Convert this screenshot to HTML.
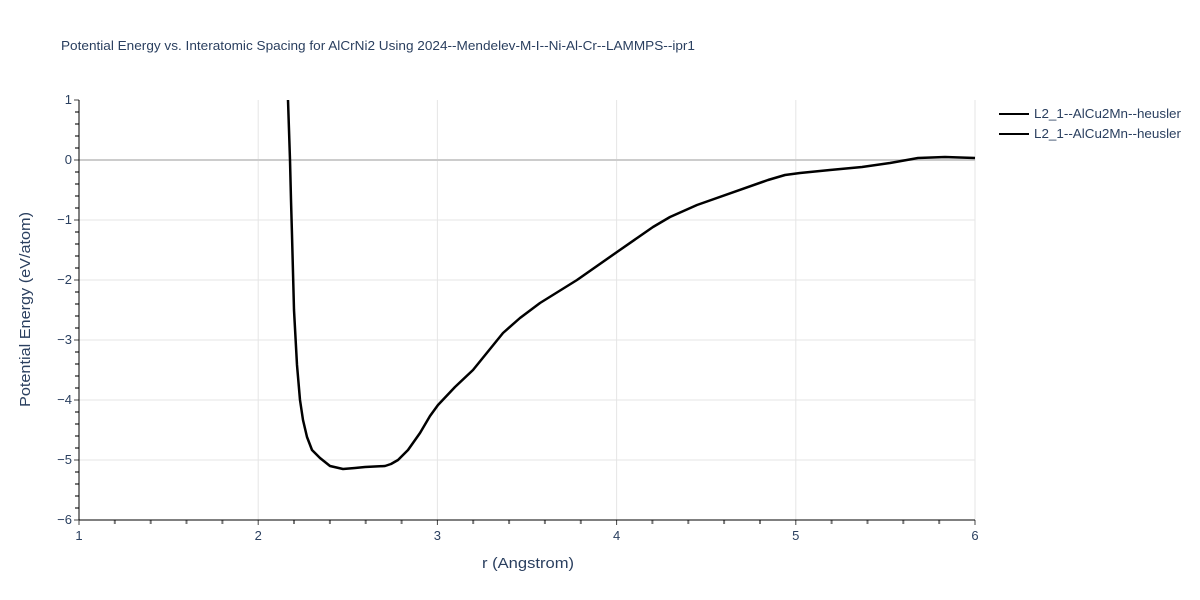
<!DOCTYPE html>
<html><head><meta charset="utf-8"><style>body{margin:0;background:#fff}svg{display:block}text{font-family:"Liberation Sans",Arial,sans-serif}</style></head><body>
<svg width="1200" height="600" viewBox="0 0 1200 600">
<text x="61" y="50" font-size="13" fill="#2a3f5f" textLength="634" lengthAdjust="spacingAndGlyphs">Potential Energy vs. Interatomic Spacing for AlCrNi2 Using 2024--Mendelev-M-I--Ni-Al-Cr--LAMMPS--ipr1</text>
<g stroke="#e5e5e5" stroke-width="1">
<line x1="258.2" y1="100" x2="258.2" y2="520"/><line x1="437.4" y1="100" x2="437.4" y2="520"/><line x1="616.6" y1="100" x2="616.6" y2="520"/><line x1="795.8" y1="100" x2="795.8" y2="520"/><line x1="975" y1="100" x2="975" y2="520"/>
<line x1="79" y1="220" x2="975" y2="220"/><line x1="79" y1="280" x2="975" y2="280"/><line x1="79" y1="340" x2="975" y2="340"/><line x1="79" y1="400" x2="975" y2="400"/><line x1="79" y1="460" x2="975" y2="460"/>
</g>
<line x1="79" y1="160" x2="975" y2="160" stroke="#cccccc" stroke-width="2"/>
<g stroke="#444" stroke-width="1">
<line x1="74" y1="100" x2="79" y2="100"/><line x1="74" y1="160" x2="79" y2="160"/><line x1="74" y1="220" x2="79" y2="220"/><line x1="74" y1="280" x2="79" y2="280"/><line x1="74" y1="340" x2="79" y2="340"/><line x1="74" y1="400" x2="79" y2="400"/><line x1="74" y1="460" x2="79" y2="460"/><line x1="74" y1="520" x2="79" y2="520"/>
<line x1="79" y1="520" x2="79" y2="525"/><line x1="258.2" y1="520" x2="258.2" y2="525"/><line x1="437.4" y1="520" x2="437.4" y2="525"/><line x1="616.6" y1="520" x2="616.6" y2="525"/><line x1="795.8" y1="520" x2="795.8" y2="525"/><line x1="975" y1="520" x2="975" y2="525"/>
</g>
<path stroke="#777" stroke-width="2" fill="none" d="M75 112h4M75 124h4M75 136h4M75 148h4M75 172h4M75 184h4M75 196h4M75 208h4M75 232h4M75 244h4M75 256h4M75 268h4M75 292h4M75 304h4M75 316h4M75 328h4M75 352h4M75 364h4M75 376h4M75 388h4M75 412h4M75 424h4M75 436h4M75 448h4M75 472h4M75 484h4M75 496h4M75 508h4
M114.8 520v4M150.7 520v4M186.5 520v4M222.4 520v4M294 520v4M329.9 520v4M365.7 520v4M401.6 520v4M473.2 520v4M509.1 520v4M544.9 520v4M580.8 520v4M652.4 520v4M688.3 520v4M724.1 520v4M760 520v4M831.6 520v4M867.5 520v4M903.3 520v4M939.2 520v4"/>
<line x1="79" y1="100" x2="79" y2="520" stroke="#000" stroke-width="1"/>
<line x1="79" y1="520" x2="975" y2="520" stroke="#000" stroke-width="1"/>
<g font-size="13" fill="#2a3f5f" text-anchor="end">
<text x="72" y="104">1</text><text x="72" y="164">0</text><text x="72" y="224">−1</text><text x="72" y="284">−2</text><text x="72" y="344">−3</text><text x="72" y="404">−4</text><text x="72" y="464">−5</text><text x="72" y="524">−6</text>
</g>
<g font-size="13" fill="#2a3f5f" text-anchor="middle">
<text x="79" y="540">1</text><text x="258.2" y="540">2</text><text x="437.4" y="540">3</text><text x="616.6" y="540">4</text><text x="795.8" y="540">5</text><text x="975" y="540">6</text>
</g>
<text x="482" y="568" font-size="15" fill="#2a3f5f" textLength="92" lengthAdjust="spacingAndGlyphs">r (Angstrom)</text>
<text transform="translate(30,407) rotate(-90)" font-size="15" fill="#2a3f5f" textLength="195" lengthAdjust="spacingAndGlyphs">Potential Energy (eV/atom)</text>
<polyline fill="none" stroke="#000" stroke-width="2.5" stroke-linejoin="round" points="288,100 290,160 291,200 292,235 294,310 297,365 300,400 303,420 307,437 312,450 320,458 330,466 343,469 355,468 365,467 385,466 391,464 398,460 408,450 420,433 430,416 438,405 455,387 473,370 503,333 520,318 540,303 577,280 617,252 653,227 670,217 697,205 768,180 785,175 800,173 830,170 862,167 890,163 918,158 945,157 975,158"/>
<g font-size="13" fill="#2a3f5f">
<line x1="999" y1="114" x2="1029" y2="114" stroke="#000" stroke-width="2"/><text x="1034" y="118" textLength="147" lengthAdjust="spacingAndGlyphs">L2_1--AlCu2Mn--heusler</text>
<line x1="999" y1="134" x2="1029" y2="134" stroke="#000" stroke-width="2"/><text x="1034" y="138" textLength="147" lengthAdjust="spacingAndGlyphs">L2_1--AlCu2Mn--heusler</text>
</g>
</svg>
</body></html>
